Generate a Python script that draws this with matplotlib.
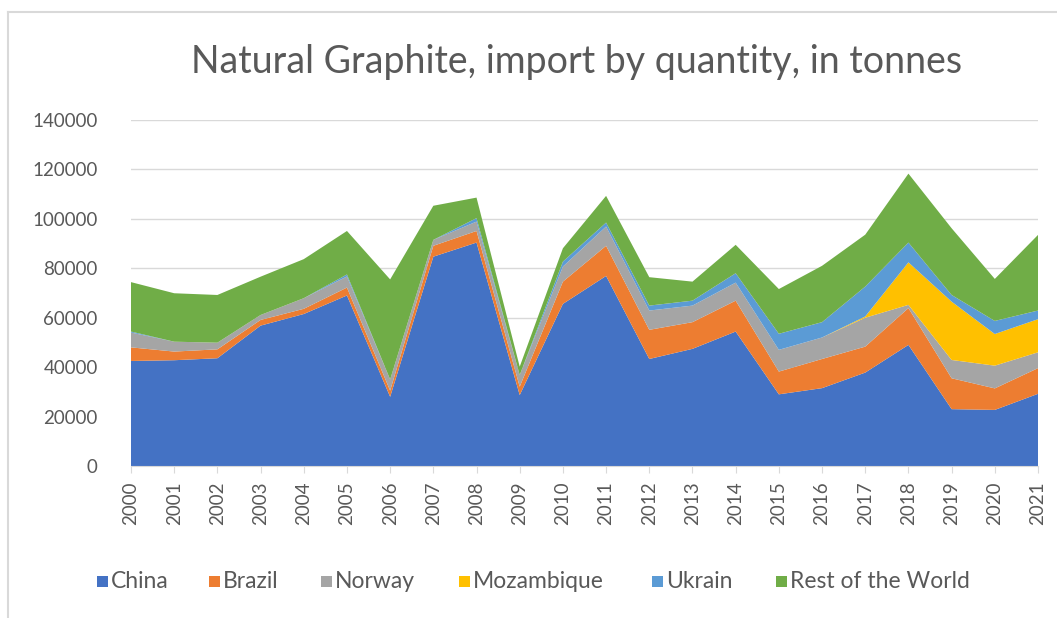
"""Stacked area chart: natural graphite imports by source country."""

import matplotlib
matplotlib.use("Agg")
import matplotlib.pyplot as plt
import matplotlib.patches as mpatches
from matplotlib.lines import Line2D

years = list(range(2000, 2022))

china = [42500, 42800, 43600, 56800, 61500, 69000, 28000, 84700, 90400, 28700, 65600,
         76900, 43300, 47400, 54400, 29000, 31500, 37800, 49000, 23000, 22700, 29200]
brazil = [5500, 3500, 3600, 2300, 2100, 3200, 2500, 4400, 4700, 3400, 9000,
          12200, 11800, 10800, 12500, 9200, 11800, 10500, 14900, 12500, 8700, 10400]
norway = [6000, 4000, 2700, 2000, 4300, 4500, 4500, 2400, 3800, 4700, 6100,
          7800, 7800, 6700, 7300, 8800, 8700, 11700, 1300, 7400, 9200, 6400]
mozambique = [0, 0, 0, 0, 0, 0, 0, 0, 0, 0, 0,
              0, 0, 0, 0, 0, 0, 500, 17200, 23600, 12800, 13400]
ukraine = [400, 0, 0, 0, 0, 800, 0, 0, 1400, 0, 2000,
           1600, 2000, 2000, 3800, 6500, 6200, 12100, 8000, 2700, 5300, 3500]
rest = [20000, 19600, 19300, 15500, 15800, 17600, 40500, 13800, 8300, 3400, 5400,
        10800, 11500, 7700, 11500, 18100, 22800, 21000, 27900, 27000, 17000, 30600]

labels = ["China", "Brazil", "Norway", "Mozambique", "Ukrain", "Rest of the World"]
colors = ["#4472C4", "#ED7D31", "#A5A5A5", "#FFC000", "#5B9BD5", "#70AD47"]

TEXT = "#595959"
GRID = "#D9D9D9"
FONT = "Lato"
W, H = 1057, 618

# left edge (px) of each legend label's text, as in the original layout
legend_text_x = [111, 223, 335, 473, 666, 790]


def main():
    fig = plt.figure(figsize=(W / 100, H / 100), dpi=100)
    ax = fig.add_axes([131 / W, 1 - 466 / H, (1038 - 131) / W, (466 - 120) / H])

    ax.stackplot(years, china, brazil, norway, mozambique, ukraine, rest,
                 colors=colors, linewidth=0, zorder=2)

    ax.set_xlim(2000, 2021)
    ax.set_ylim(0, 140000)
    ax.set_yticks(range(0, 140001, 20000))
    ax.set_xticks(years)
    ax.set_xticklabels([str(y) for y in years], rotation=90)

    ax.grid(axis="y", color=GRID, linewidth=1, zorder=0)
    ax.set_axisbelow(True)
    for side in ("top", "right", "left"):
        ax.spines[side].set_visible(False)
    ax.spines["bottom"].set_color(GRID)
    ax.spines["bottom"].set_zorder(3)

    ax.tick_params(axis="y", length=0, pad=24, labelsize=13.5, labelcolor=TEXT)
    ax.tick_params(axis="x", length=5, color=GRID, pad=6, labelsize=13.5, labelcolor=TEXT)
    for lbl in ax.get_xticklabels() + ax.get_yticklabels():
        lbl.set_fontfamily(FONT)

    fig.text(577 / W, 1 - 62 / H, "Natural Graphite, import by quantity, in tonnes",
             ha="center", va="center", fontsize=27, color=TEXT, family=FONT)

    # legend, laid out by hand so each entry sits where it does in the original
    ly = 1 - 581 / H
    sq = 11
    for x, c, l in zip(legend_text_x, colors, labels):
        fig.add_artist(mpatches.Rectangle(((x - sq - 3) / W, ly - sq / 2 / H), sq / W, sq / H,
                                          transform=fig.transFigure, facecolor=c,
                                          edgecolor="none"))
        fig.text(x / W, ly, l, ha="left", va="center", fontsize=16.5, color=TEXT,
                 family=FONT)

    # chart-area border (only top and left visible in the crop)
    fig.add_artist(Line2D([8 / W, 1], [1 - 12 / H, 1 - 12 / H],
                          transform=fig.transFigure, color=GRID, linewidth=1.5))
    fig.add_artist(Line2D([8 / W, 8 / W], [0, 1 - 12 / H],
                          transform=fig.transFigure, color=GRID, linewidth=1.5))

    fig.savefig("out.png", dpi=100, facecolor="white")
    plt.close(fig)


if __name__ == "__main__":
    main()
